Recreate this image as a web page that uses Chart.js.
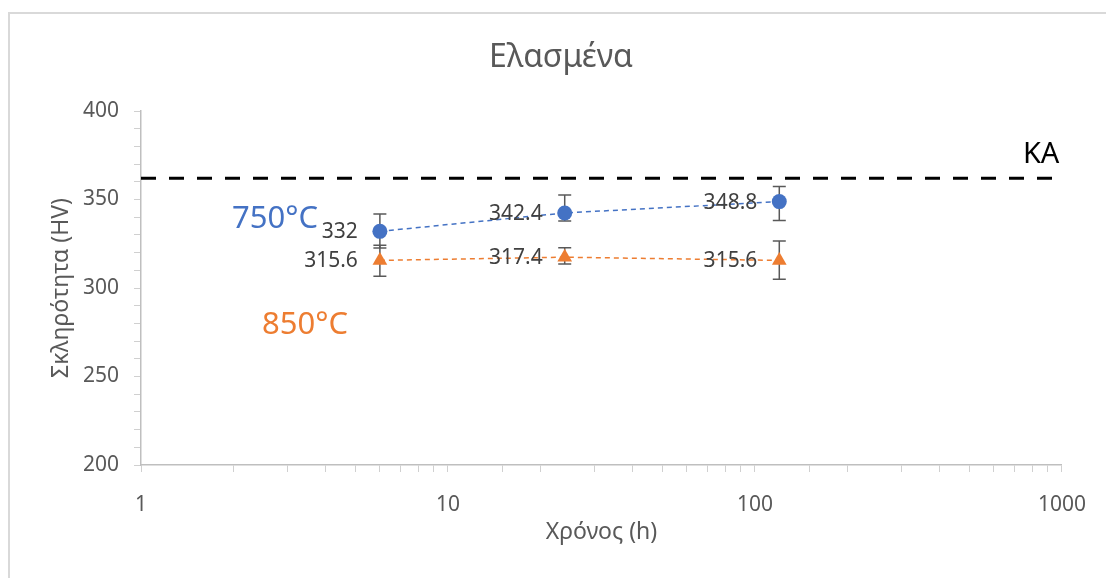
<!DOCTYPE html>
<html>
<head>
<meta charset="utf-8">
<script src="https://cdn.jsdelivr.net/npm/chart.js@4/dist/chart.umd.min.js"></script>
<style>
  html, body { margin: 0; padding: 0; background: #fff; }
  canvas { display: block; }
</style>
</head>
<body>
<canvas id="hardness" width="1106" height="578"></canvas>
<script>
// hardness vs ageing time, rolled sheet
const hours = [6, 24, 120];
const hv750 = [332, 342.4, 348.8];
const up750 = [9.8, 10.2, 8.5];
const down750 = [9.4, 4.5, 10.6];
const hv850 = [315.6, 317.4, 315.6];
const up850 = [8.6, 5.3, 11];
const down850 = [8.9, 3.8, 10.7];
const kaLevel = 362;
const kaSpan = [1, 1000];

const blue = "#4472C4";
const orange = "#ED7D31";
const grey = "#595959";
const font = "'Noto Sans', 'Open Sans', sans-serif";

// free text placed in data coordinates
const notes = [
  { text: "750°C", x: 1.98, y: 339, color: blue, size: 31 },
  { text: "850°C", x: 2.48, y: 279, color: orange, size: 31 },
  { text: "KA", x: 746, y: 375.5, color: "#000", size: 29 },
];

const toPoints = (xs, ys) => xs.map((x, i) => ({ x, y: ys[i] }));

// outer frame and chart heading
const frame = {
  id: "frame",
  beforeDraw(chart) {
    const c = chart.ctx;
    c.save();
    c.strokeStyle = "#d9d9d9";
    c.lineWidth = 2;
    c.strokeRect(9, 13, 1300, 1300);
    c.font = "32px " + font;
    c.fillStyle = grey;
    c.textAlign = "center";
    c.textBaseline = "alphabetic";
    c.fillText("Ελασμένα", 561, 67);
    c.restore();
  },
};

const errorBars = {
  id: "errorBars",
  beforeDatasetsDraw(chart) {
    const c = chart.ctx;
    const xs = chart.scales.x, ys = chart.scales.y;
    c.save();
    c.strokeStyle = grey;
    c.lineWidth = 1.5;
    [[hv750, up750, down750], [hv850, up850, down850]].forEach(([vals, ups, downs]) => {
      vals.forEach((v, i) => {
        const px = xs.getPixelForValue(hours[i]);
        const top = ys.getPixelForValue(v + ups[i]);
        const bot = ys.getPixelForValue(v - downs[i]);
        c.beginPath();
        c.moveTo(px, top); c.lineTo(px, bot);
        c.moveTo(px - 6.5, top); c.lineTo(px + 6.5, top);
        c.moveTo(px - 6.5, bot); c.lineTo(px + 6.5, bot);
        c.stroke();
      });
    });
    c.restore();
  },
  afterDatasetsDraw(chart) {
    const c = chart.ctx;
    const xs = chart.scales.x, ys = chart.scales.y;
    c.save();
    // value labels to the left of each marker
    c.font = "21px " + font;
    c.fillStyle = "#404040";
    c.textAlign = "right";
    c.textBaseline = "middle";
    [hv750, hv850].forEach(vals => {
      vals.forEach((v, i) => {
        c.fillText(String(v), xs.getPixelForValue(hours[i]) - 22, ys.getPixelForValue(v) + 1);
      });
    });
    c.textAlign = "left";
    notes.forEach(n => {
      c.font = n.size + "px " + font;
      c.fillStyle = n.color;
      c.fillText(n.text, xs.getPixelForValue(n.x), ys.getPixelForValue(n.y));
    });
    c.restore();
  },
};

new Chart(document.getElementById("hardness"), {
  type: "line",
  data: {
    datasets: [
      {
        label: "KA",
        data: toPoints(kaSpan, [kaLevel, kaLevel]),
        borderColor: "#000",
        borderWidth: 3,
        borderDash: [15, 13],
        pointRadius: 0,
      },
      {
        label: "750°C",
        data: toPoints(hours, hv750),
        borderColor: blue,
        backgroundColor: blue,
        borderWidth: 1.5,
        borderDash: [5, 4],
        pointStyle: "circle",
        pointRadius: 7.5,
        pointBorderWidth: 0,
      },
      {
        label: "850°C",
        data: toPoints(hours, hv850),
        borderColor: orange,
        backgroundColor: orange,
        borderWidth: 1.5,
        borderDash: [5, 4],
        pointStyle: "triangle",
        pointRadius: 8.5,
        pointBorderWidth: 0,
      },
    ],
  },
  options: {
    responsive: false,
    animation: false,
    layout: { padding: { left: 9, right: 44, top: 111, bottom: 0 } },
    plugins: {
      legend: { display: false },
      tooltip: { enabled: false },
    },
    scales: {
      x: {
        type: "logarithmic",
        min: 1,
        max: 1000,
        afterFit: s => { s.height = 113; },
        border: { color: "#bfbfbf", width: 1.5 },
        grid: { drawOnChartArea: false, drawTicks: true, tickLength: 7, color: "#d0d0d0" },
        ticks: {
          autoSkip: false,
          maxRotation: 0,
          padding: 20,
          color: grey,
          font: { family: font, size: 21 },
          callback: v => (Math.log10(v) % 1 === 0 ? String(v) : ""),
        },
        title: {
          display: true,
          text: "Χρόνος (h)",
          color: grey,
          font: { family: font, size: 23 },
          padding: { top: 0, bottom: 32 },
        },
      },
      y: {
        min: 200,
        max: 400,
        afterFit: s => { s.width = 132; },
        border: { color: "#bfbfbf", width: 1.5 },
        grid: { drawOnChartArea: false, drawTicks: true, tickLength: 7, color: "#d0d0d0" },
        ticks: {
          stepSize: 10,
          autoSkip: false,
          padding: 15,
          color: grey,
          font: { family: font, size: 21 },
          callback: v => (v % 50 === 0 ? String(v) : ""),
        },
        title: {
          display: true,
          text: "Σκληρότητα (HV)",
          color: grey,
          font: { family: font, size: 23 },
          padding: { top: 39, bottom: 0 },
        },
      },
    },
  },
  plugins: [frame, errorBars],
});
</script>
</body>
</html>
